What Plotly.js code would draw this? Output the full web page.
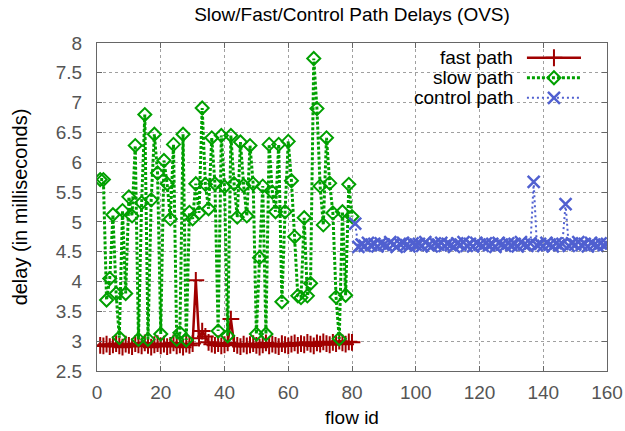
<!DOCTYPE html>
<html>
<head>
<meta charset="utf-8">
<script src="https://cdn.plot.ly/plotly-3.0.1.min.js"></script>
<style>html,body{margin:0;padding:0;background:#fff;}#chart{width:625px;height:431px;}</style>
</head>
<body>
<div id="chart"></div>
<script>
// ---- data ----
var fastX = [];
for (var i = 1; i <= 80; i++) fastX.push(i);
var fastY = [
  2.93, 2.92, 2.95, 2.91, 2.94, 2.96, 2.92, 2.90, 2.95, 2.93,
  2.91, 2.96, 2.94, 2.92, 2.97, 2.93, 2.90, 2.94, 2.96, 2.92,
  2.95, 2.91, 2.93, 2.97, 2.92, 2.94, 2.90, 2.95, 2.93, 2.96,
  4.02, 3.05, 3.17, 3.08, 2.98, 2.95, 2.93, 2.96, 2.92, 2.94,
  2.97, 3.37, 2.96, 2.93, 2.91, 2.95, 2.92, 2.94, 2.96, 2.93,
  2.90, 2.94, 2.97, 2.92, 2.95, 2.93, 2.91, 2.96, 2.94, 2.92,
  2.95, 2.97, 2.93, 2.96, 2.94, 2.98, 2.95, 2.92, 2.97, 2.95,
  2.99, 2.96, 2.94, 2.98, 2.96, 3.00, 2.97, 2.95, 2.99, 2.98
];
var slowX = fastX.slice();
var slowY = [
  5.71, 5.71, 3.69, 4.05, 5.12, 3.80, 3.06, 5.19, 3.80, 5.42,
  5.10, 6.28, 3.03, 5.32, 6.80, 3.03, 5.37, 6.47, 5.82, 3.12,
  6.03, 5.64, 5.05, 6.30, 3.03, 3.14, 6.47, 3.02, 5.16, 5.05,
  5.64, 5.15, 6.91, 5.63, 5.22, 6.41, 5.64, 3.17, 6.45, 5.59,
  3.09, 6.45, 5.64, 5.08, 6.34, 5.61, 5.10, 6.28, 5.64, 3.12,
  4.40, 5.60, 3.12, 6.30, 5.50, 5.17, 6.30, 3.66, 5.17, 6.35,
  5.69, 4.75, 3.76, 3.73, 5.07, 3.76, 3.97, 7.74, 6.90, 5.60,
  4.95, 6.41, 5.65, 5.15, 3.74, 3.04, 5.17, 3.77, 5.63, 5.09
];
var controlX = [];
for (var j = 81; j <= 160; j++) controlX.push(j);
var controlY = [
  4.97, 4.58, 4.62, 4.60, 4.65, 4.61, 4.63, 4.59, 4.64, 4.62,
  4.60, 4.66, 4.62, 4.58, 4.63, 4.65, 4.61, 4.59, 4.64, 4.62,
  4.63, 4.60, 4.66, 4.61, 4.59, 4.64, 4.62, 4.65, 4.60, 4.63,
  4.61, 4.58, 4.64, 4.62, 4.66, 4.60, 4.63, 4.59, 4.65, 4.62,
  4.60, 4.64, 4.61, 4.63, 4.58, 4.65, 4.62, 4.60, 4.64, 4.61,
  4.63, 4.59, 4.66, 4.62, 4.60, 4.64, 5.67, 4.61, 4.63, 4.60,
  4.65, 4.62, 4.59, 4.64, 4.61, 4.63, 5.30, 4.60, 4.64, 4.62,
  4.66, 4.61, 4.63, 4.59, 4.65, 4.62, 4.60, 4.64, 4.61, 4.63
];
var seriesNames = ["fast path", "slow path", "control path"];
var xTicks = [0, 20, 40, 60, 80, 100, 120, 140, 160];
var yTicks = [2.5, 3, 3.5, 4, 4.5, 5, 5.5, 6, 6.5, 7, 7.5, 8];

// ---- styles ----
var RED = "#A00000", GREEN = "#00A000", BLUE = "#5060D0";
var FONT = "Liberation Sans, Arial, sans-serif";
var styles = [
  {line: {color: RED, width: 2.5, dash: "solid"}, marker: {symbol: "cross-thin-open", size: 12, color: RED, line: {color: RED, width: 2}}},
  {line: {color: GREEN, width: 3, dash: "3px,2px"}, marker: {symbol: "diamond-open", size: 10, color: GREEN, line: {color: GREEN, width: 2}}},
  {line: {color: BLUE, width: 2, dash: "2px,3px"}, marker: {symbol: "x-thin-open", size: 12, color: BLUE, line: {color: BLUE, width: 2.5}}}
];
var xs = [fastX, slowX, controlX];
var ys = [fastY, slowY, controlY];

var traces = [];
for (var k = 0; k < 3; k++) {
  traces.push({
    type: "scatter", mode: "lines+markers", x: xs[k], y: ys[k], name: seriesNames[k],
    line: styles[k].line, marker: styles[k].marker, showlegend: false, cliponaxis: true
  });
}

// legend samples (custom, gnuplot style: text then sample)
var legY = [0.955, 0.894, 0.833];
var annotations = [];
for (var m = 0; m < 3; m++) {
  traces.push({type: "scatter", mode: "lines", xaxis: "x2", yaxis: "y2", x: [0.843, 0.949], y: [legY[m], legY[m]],
    line: styles[m].line, showlegend: false, hoverinfo: "skip"});
  traces.push({type: "scatter", mode: "markers", xaxis: "x2", yaxis: "y2", x: [0.896], y: [legY[m]],
    marker: styles[m].marker, showlegend: false, hoverinfo: "skip"});
  annotations.push({xref: "paper", yref: "paper", x: 0.8196, y: legY[m], xanchor: "right", yanchor: "middle",
    text: seriesNames[m], showarrow: false, font: {family: FONT, size: 19, color: "#000"}});
}

var axisCommon = {
  showgrid: true, gridcolor: "#a0a0a0", griddash: "dot", gridwidth: 1,
  showline: true, linecolor: "#666", linewidth: 1, mirror: "ticks",
  ticks: "inside", ticklen: 5, tickcolor: "#666", tickwidth: 1,
  zeroline: false, tickfont: {family: FONT, size: 19, color: "#555"}
};

var layout = {
  width: 625, height: 431,
  margin: {l: 97, r: 18, t: 43, b: 60},
  paper_bgcolor: "#fff", plot_bgcolor: "#fff",
  showlegend: false,
  title: {text: "Slow/Fast/Control Path Delays (OVS)", font: {family: FONT, size: 19, color: "#000"},
    x: 0.5, xref: "paper", y: 1 - 14 / 431, yref: "container", yanchor: "middle"},
  xaxis: Object.assign({}, axisCommon, {range: [0, 160], tickvals: xTicks, ticklabelstandoff: 4,
    title: {text: "flow id", font: {family: FONT, size: 19, color: "#000"}, standoff: 8}}),
  yaxis: Object.assign({}, axisCommon, {range: [2.5, 8], tickvals: yTicks, ticklabelstandoff: 10,
    title: {text: "delay (in milliseconds)", font: {family: FONT, size: 20, color: "#000"}, standoff: 22}}),
  xaxis2: {overlaying: "x", range: [0, 1], visible: false, fixedrange: true},
  yaxis2: {overlaying: "y", range: [0, 1], visible: false, fixedrange: true},
  annotations: annotations
};

Plotly.newPlot("chart", traces, layout, {displayModeBar: false, staticPlot: true});
</script>
</body>
</html>
